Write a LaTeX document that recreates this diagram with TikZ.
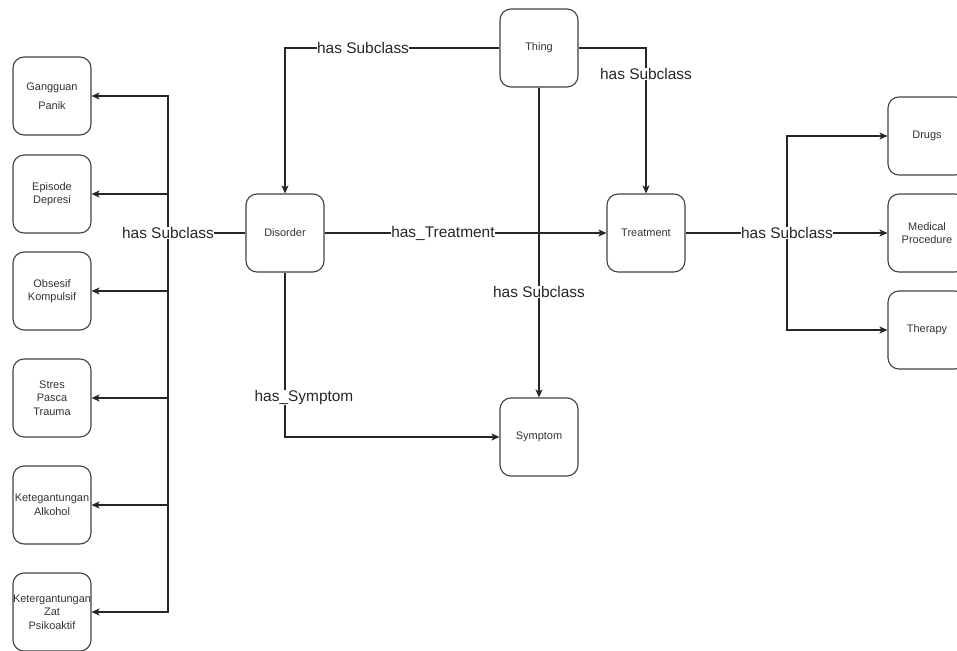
\documentclass[tikz,border=0pt]{standalone}
\usepackage{fontspec}
\setmainfont{Liberation Sans}
\usetikzlibrary{arrows.meta}
\begin{document}
\begin{tikzpicture}[x=1bp,y=-1bp,
 box/.style={draw=black!75, line width=1.1bp, rounded corners=11bp, minimum width=78bp, minimum height=78bp, inner sep=0pt, align=center, font=\fontsize{11}{13.5}\selectfont, text=black!80},
 conn/.style={draw=black!85, line width=1.1bp},
 arr/.style={conn, -{Stealth[length=8bp,width=7bp,inset=2bp]}},
 lbl/.style={fill=white, inner sep=0.5bp, font=\fontsize{15.5}{18}\selectfont, text=black!85}]
\useasboundingbox (0,0) rectangle (957,651);
% central nodes
\node[box] (thing) at (539,48) {Thing};
\node[box] (dis) at (285,233) {Disorder};
\node[box] (treat) at (646,233) {Treatment};
\node[box] (sym) at (539,437) {Symptom};
% left column
\node[box, font=\fontsize{11}{19}\selectfont] (gp) at (52,96) {Gangguan\\Panik};
\node[box] (ed) at (52,194) {Episode\\Depresi};
\node[box] (ok) at (52,291) {Obsesif\\Kompulsif};
\node[box] (sp) at (52,398) {Stres\\Pasca\\Trauma};
\node[box] (ka) at (52,505) {Ketegantungan\\Alkohol};
\node[box] (kz) at (52,612) {Ketergantungan\\Zat\\Psikoaktif};
% right column
\node[box] (dr) at (927,136) {Drugs};
\node[box] (mp) at (927,233) {Medical\\Procedure};
\node[box] (th) at (927,330) {Therapy};
% bus points
\coordinate (busL) at (168,233);
\coordinate (busR) at (787,233);
% left subclass connectors
\draw[conn] (dis.west) -- (busL);
\foreach \n in {gp,ed,ok,sp,ka,kz} \draw[arr] (busL) |- (\n.east);
\node[lbl] at (busL) {has Subclass};
% thing connectors
\draw[arr] (thing.west) -| (dis.north) node[lbl, pos=0.318] {has Subclass};
\draw[arr] (thing.east) -| (treat.north) node[lbl, pos=0.59] {has Subclass};
\draw[arr] (thing.south) -- (sym.north) node[lbl, pos=0.66] {has Subclass};
% relations
\draw[arr] (dis.east) -- (treat.west) node[lbl, pos=0.42] {has\_Treatment};
\draw[arr] (dis.south) |- (sym.west) node[lbl, pos=0.38, xshift=19bp] {has\_Symptom};
% right subclass connectors
\draw[conn] (treat.east) -- (busR);
\foreach \n in {dr,mp,th} \draw[arr] (busR) |- (\n.west);
\node[lbl] at (busR) {has Subclass};
\end{tikzpicture}
\end{document}
